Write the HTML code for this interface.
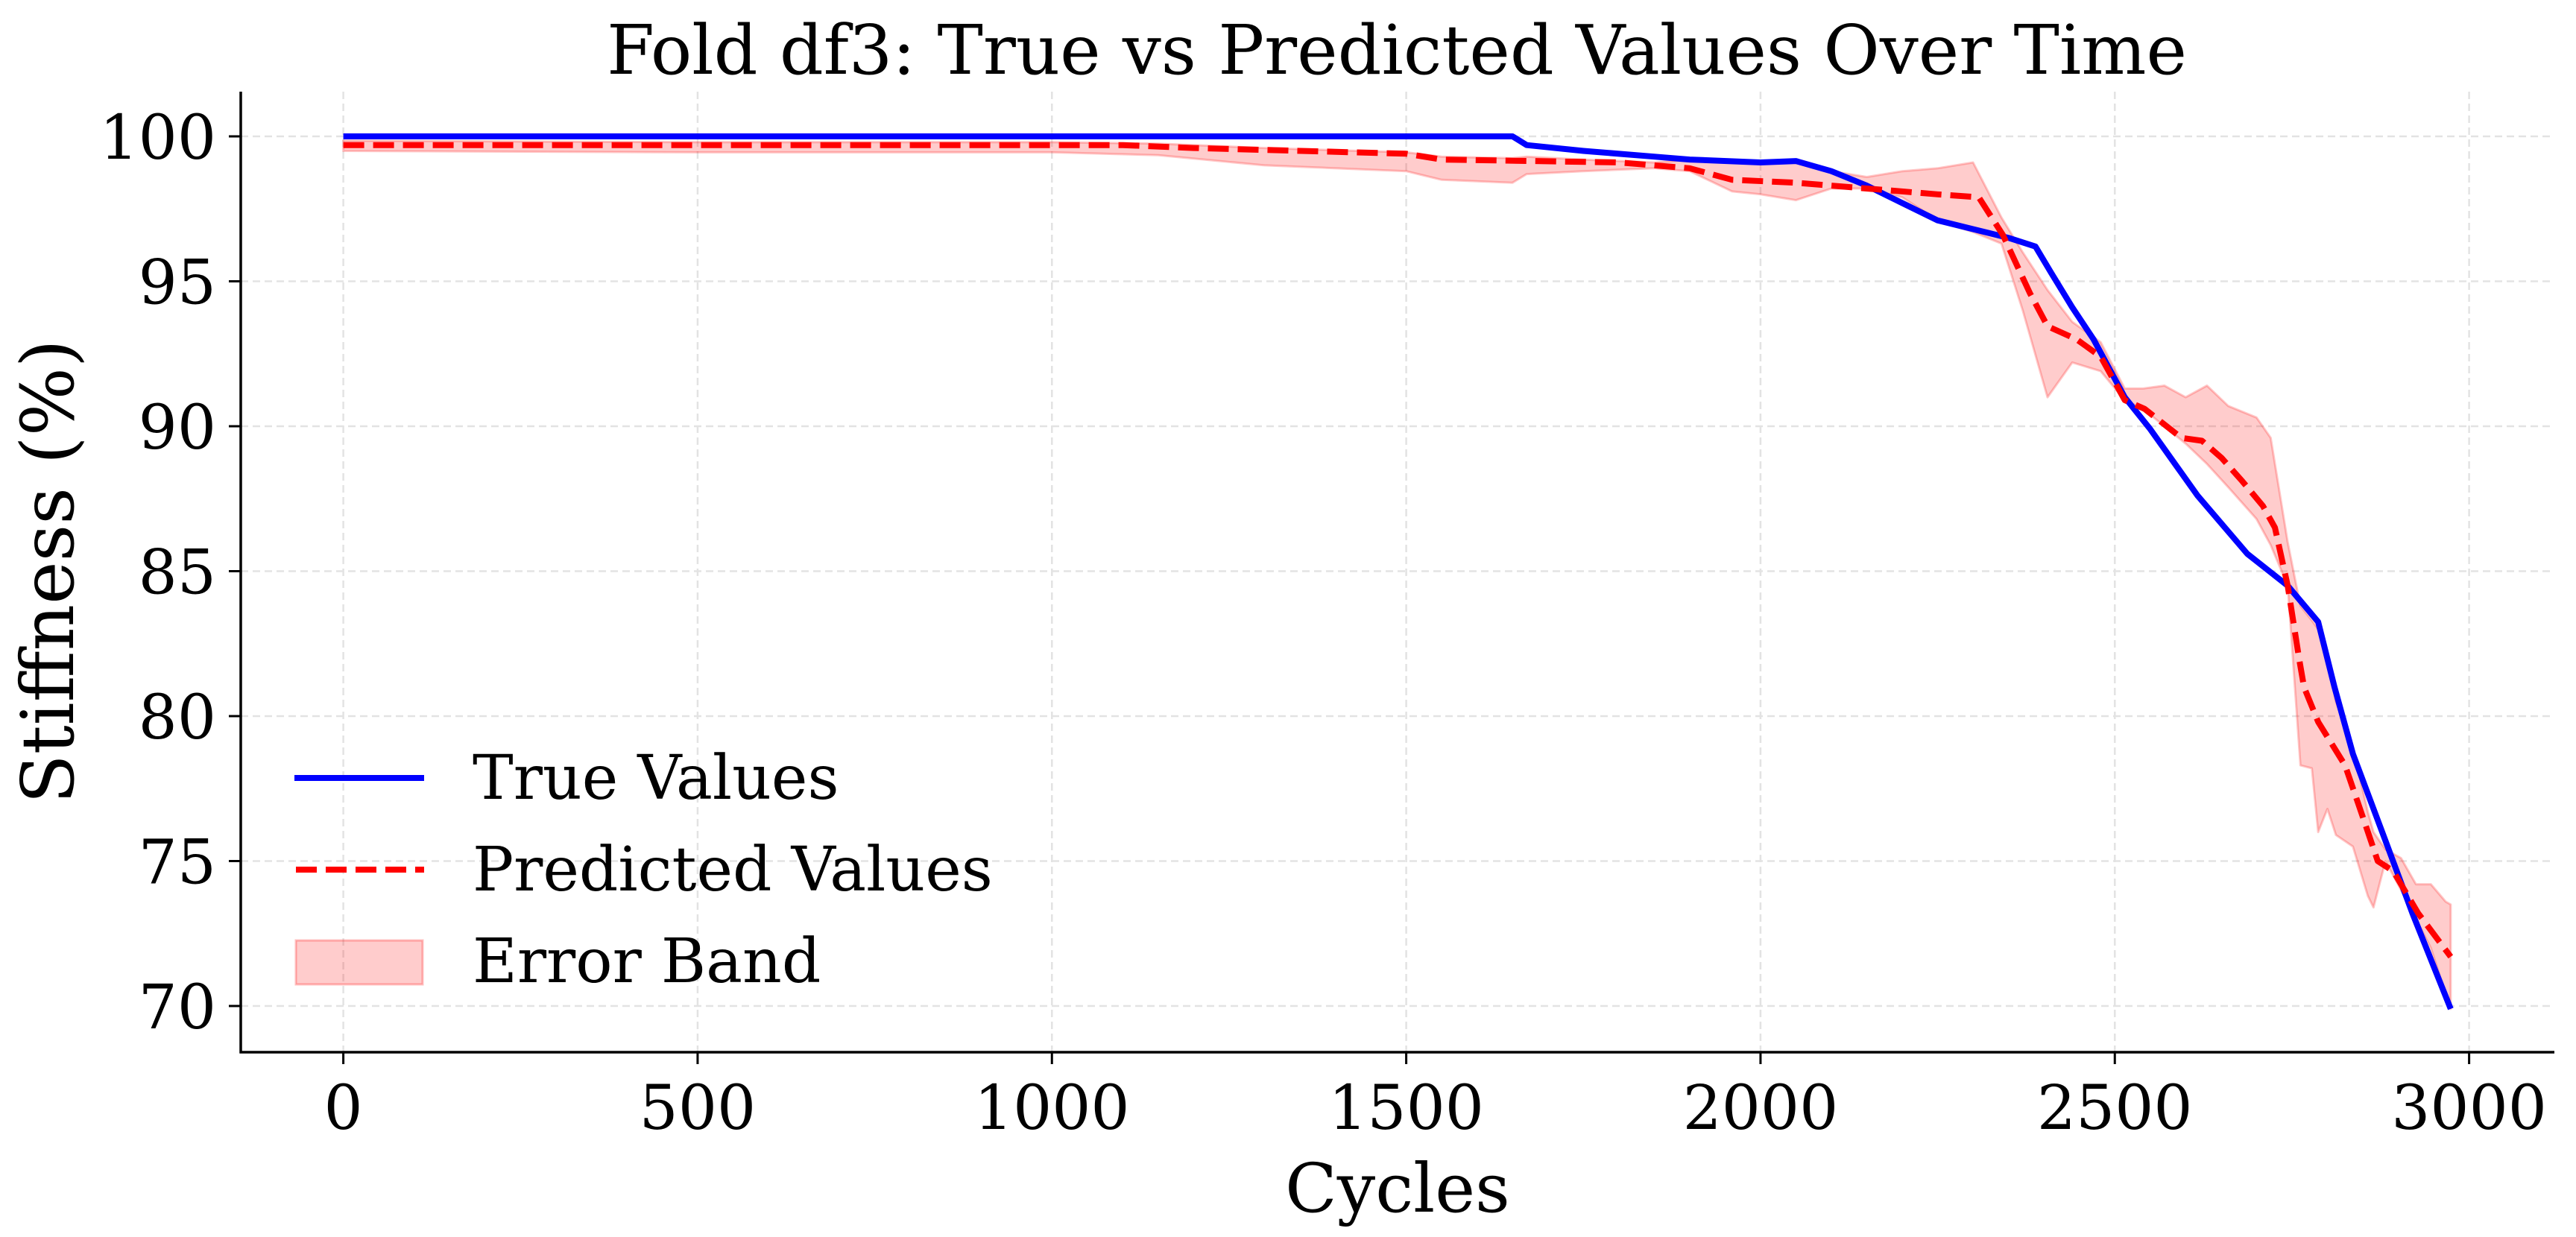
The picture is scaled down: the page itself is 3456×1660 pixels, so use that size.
<!DOCTYPE html>
<html><head><meta charset="utf-8"><style>
html,body{margin:0;padding:0;background:#fff;}
svg{display:block;font-family:"DejaVu Serif","Liberation Serif",serif;}
</style></head><body>
<svg id="chart" width="3456" height="1660" viewBox="0 0 3456 1660" xmlns="http://www.w3.org/2000/svg">
<rect width="3456" height="1660" fill="#fff"/>
<g id="grid"></g>
<g id="band"></g>
<g id="lines"></g>
<g id="axes"></g>
<text x="1874" y="99" font-size="92" text-anchor="middle">Fold df3: True vs Predicted Values Over Time</text>
<text x="1875" y="1626" font-size="91" text-anchor="middle">Cycles</text>
<text transform="translate(98,767) rotate(-90)" font-size="97" text-anchor="middle">Stiffness (%)</text>
<g>
  <line x1="395" y1="1044" x2="569" y2="1044" stroke="#0000ff" stroke-width="8"/>
  <text x="634" y="1072" font-size="82">True Values</text>
  <line x1="397" y1="1167" x2="569" y2="1167" stroke="#ff0000" stroke-width="8" stroke-dasharray="28,12"/>
  <text x="634" y="1195" font-size="82">Predicted Values</text>
  <rect x="397" y="1262" width="170" height="59" fill="rgba(255,0,0,0.2)" stroke="rgba(255,0,0,0.25)" stroke-width="3"/>
  <text x="634" y="1318" font-size="82">Error Band</text>
</g>
</svg>
<script>
const trueCycles=[0,1650,1670,1750,1850,1900,2000,2050,2100,2150,2200,2250,2300,2350,2388,2410,2440,2470,2514,2550,2617,2687,2744,2787,2810,2836,2882,2920,2974];
const trueValues=[100,100,99.7,99.5,99.3,99.2,99.1,99.15,98.8,98.3,97.7,97.1,96.8,96.5,96.2,95.3,94.1,93.0,91.0,89.9,87.6,85.6,84.5,83.25,81.0,78.7,75.7,73.2,69.9];
const predCycles=[0,1100,1200,1500,1550,1800,1900,1960,2050,2150,2250,2308,2342,2380,2405,2446,2480,2514,2542,2594,2623,2651,2680,2709,2726,2744,2760,2767,2787,2825,2853,2871,2893,2928,2974];
const predValues=[99.7,99.7,99.6,99.4,99.2,99.1,98.9,98.5,98.4,98.2,98.0,97.9,96.6,94.6,93.45,93.0,92.4,90.9,90.6,89.6,89.5,88.9,88.1,87.25,86.5,84.5,82.0,81.0,79.8,78.3,76.3,75.0,74.65,73.2,71.7];
const bandCycles=[0,500,1000,1150,1300,1500,1550,1650,1670,1750,1850,1900,1960,2000,2050,2100,2150,2200,2250,2300,2340,2370,2405,2440,2480,2514,2540,2570,2600,2630,2660,2700,2720,2744,2762,2778,2787,2800,2812,2836,2857,2865,2882,2904,2925,2946,2967,2974];
const bandLower=[99.5,99.45,99.45,99.35,99.0,98.8,98.5,98.4,98.7,98.8,98.9,98.8,98.1,98.0,97.8,98.2,98.2,97.9,97.1,96.7,96.3,94.0,91.0,92.2,91.9,90.9,90.6,90.0,89.4,88.7,87.9,86.8,85.9,84.5,78.3,78.2,76.0,76.8,75.9,75.5,73.8,73.4,75.0,74.0,73.0,72.0,70.4,69.9];
const bandUpper=[99.85,99.8,99.8,99.75,99.6,99.45,99.3,99.25,99.3,99.2,99.1,99.2,99.1,99.15,99.1,98.8,98.6,98.8,98.9,99.1,97.2,96.0,94.7,93.6,92.9,91.3,91.3,91.4,91.0,91.4,90.7,90.3,89.6,86.0,83.8,83.3,83.0,82.0,80.5,78.9,76.7,76.0,75.4,75.1,74.2,74.2,73.6,73.5];
const xTicks=[0,500,1000,1500,2000,2500,3000];
const yTicks=[70,75,80,85,90,95,100];

const NS="http://www.w3.org/2000/svg";
const L=323,R=3427,T=123,B=1412;
function X(c){return 460.6+c*(3312.6-460.6)/3000;}
function Y(v){return 1350-(v-70)*(1350-183)/30;}
function mk(tag,attrs,parent){const e=document.createElementNS(NS,tag);for(const k in attrs)e.setAttribute(k,attrs[k]);parent.appendChild(e);return e;}
const grid=document.getElementById('grid'),axes=document.getElementById('axes'),band=document.getElementById('band'),lines=document.getElementById('lines');
xTicks.forEach(t=>{
  const g=mk('line',{x1:X(t),x2:X(t),y1:T,y2:B,stroke:'#e3e3e3','stroke-width':2.5,'stroke-dasharray':'10,6'},grid);
  
  
  const tk=mk('line',{x1:X(t),x2:X(t),y1:B,y2:B+16,stroke:'#000','stroke-width':3},axes);
  
  
  const lb=mk('text',{x:X(t),y:1515,'font-size':82,'text-anchor':'middle'},axes);
  lb.textContent=t;
  
  
});
yTicks.forEach(t=>{
  const g=mk('line',{x1:L,x2:R,y1:Y(t),y2:Y(t),stroke:'#e3e3e3','stroke-width':2.5,'stroke-dasharray':'10,6'},grid);
  
  
  const tk=mk('line',{x1:L-16,x2:L,y1:Y(t),y2:Y(t),stroke:'#000','stroke-width':3},axes);
  
  
  const lb=mk('text',{x:290,y:Y(t)+30,'font-size':82,'text-anchor':'end'},axes);
  lb.textContent=t;
  
  
});
const la=mk('line',{x1:L,x2:L,y1:T,y2:B+1.5,stroke:'#000','stroke-width':3.5},axes);


const ba=mk('line',{x1:L-1.5,x2:R,y1:B,y2:B,stroke:'#000','stroke-width':3.5},axes);



let d='';
bandCycles.forEach((c,i)=>{d+=(i?'L':'M')+X(c).toFixed(1)+','+Y(bandUpper[i]).toFixed(1);});
for(let i=bandCycles.length-1;i>=0;i--)d+='L'+X(bandCycles[i]).toFixed(1)+','+Y(bandLower[i]).toFixed(1);
d+='Z';
const bp=mk('path',{d:d,fill:'rgba(255,0,0,0.2)',stroke:'rgba(255,0,0,0.22)','stroke-width':3,'stroke-linejoin':'round'},band);



const tp=mk('polyline',{points:trueCycles.map((c,i)=>X(c).toFixed(1)+','+Y(trueValues[i]).toFixed(1)).join(' '),fill:'none',stroke:'#0000ff','stroke-width':8,'stroke-linejoin':'round'},lines);


const pp=mk('polyline',{points:predCycles.map((c,i)=>X(c).toFixed(1)+','+Y(predValues[i]).toFixed(1)).join(' '),fill:'none',stroke:'#ff0000','stroke-width':8,'stroke-dasharray':'28,12','stroke-linejoin':'round'},lines);


</script>
</body></html>
